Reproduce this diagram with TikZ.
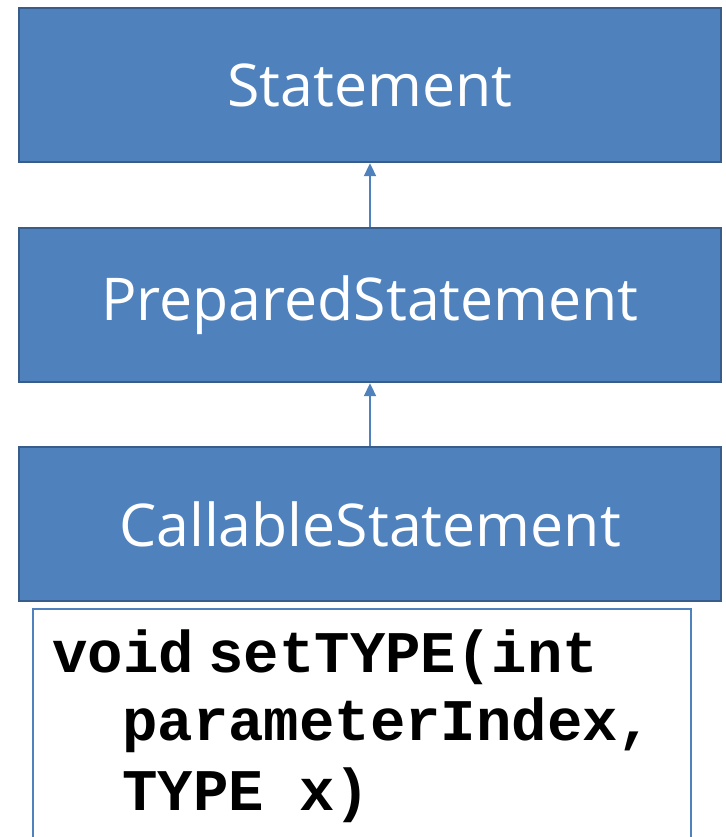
\documentclass[tikz,border=0pt]{standalone}
\usepackage{fontspec}
\setmainfont{Open Sans}
\newfontfamily\codefont{Liberation Mono}
\usetikzlibrary{arrows.meta}
\definecolor{boxblue}{HTML}{4F81BD}
\definecolor{boxedge}{HTML}{385D8A}
\begin{document}
\begin{tikzpicture}[x=1pt,y=-1pt,
  classbox/.style={draw=boxedge,line width=2.4pt,fill=boxblue,text=white,
    minimum width=702pt,minimum height=154pt,inner sep=0pt,font=\fontsize{59}{62}\selectfont},
  inherit/.style={draw=boxblue,line width=2pt,-{Triangle[length=13pt,width=12pt]}},
  codeline/.style={anchor=base west,inner sep=0pt,font=\codefont\bfseries\fontsize{59}{62}\selectfont}]
\useasboundingbox (0,0) rectangle (725,837);
\node[classbox] (st) at (370,85) {Statement};
\node[classbox] (ps) at (370,305) {PreparedStatement};
\node[classbox] (cs) at (370,524) {CallableStatement};
\draw[inherit] (ps.north) -- (st.south);
\draw[inherit] (cs.north) -- (ps.south);
\coordinate (bl) at (33,840);
\coordinate (br) at (691,840);
\draw[draw=boxblue,line width=1.5pt] (bl) -- (33,609) -- (691,609) -- (br);
\node[codeline] (l1) at (52,672) {void\hspace{-0.35em} setTYPE(int};
\node[codeline] (l2) at (122,740) {parameterIndex,};
\node[codeline] (l3) at (122,810) {TYPE x)};
\end{tikzpicture}
\end{document}
